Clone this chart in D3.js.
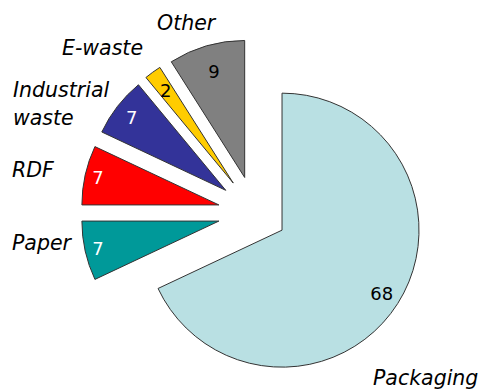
<!DOCTYPE html>
<html>
<head>
<meta charset="utf-8">
<script src="https://cdn.jsdelivr.net/npm/d3@7"></script>
<style>
  html, body { margin: 0; padding: 0; background: #fff; }
  svg { display: block; }
</style>
</head>
<body>
<svg id="chart" width="484" height="392"></svg>
<script>
// ---- data ----
const categories = ["Packaging", "Paper", "RDF", "Industrial waste", "E-waste", "Other"];
const values = [68, 7, 7, 7, 2, 9];
const colors = ["#B9E0E3", "#009999", "#FF0000", "#333399", "#FFCC00", "#808080"];
const valueColors = ["#000000", "#FFFFFF", "#FFFFFF", "#FFFFFF", "#000000", "#000000"];

// ---- layout ----
const W = 484, H = 392;
const cx = 255, cy = 213, R = 137;
const explodeMain = 32, explodeSmall = 37;
// distance of value labels from each slice's tip
const labelRadius = { "Packaging": 118, "Paper": 124, "RDF": 124, "Industrial waste": 119, "E-waste": 115, "Other": 110 };
// category label anchors (text-anchor start, baseline), relative to pie centre
const catLabelLayout = {
  "Packaging":        { dx: 118, dy: 172, lines: ["Packaging"] },
  "Paper":            { dx: -243, dy: 37, lines: ["Paper"] },
  "RDF":              { dx: -243, dy: -36, lines: ["RDF"] },
  "Industrial waste": { dx: -242, dy: -116, lines: ["Industrial", "waste"] },
  "E-waste":          { dx: -193, dy: -158, lines: ["E-waste"] },
  "Other":            { dx: -98, dy: -183, lines: ["Other"] }
};

const svg = d3.select("#chart");
const data = categories.map((c, i) => ({ cat: c, value: values[i], color: colors[i], vcol: valueColors[i] }));

const pie = d3.pie().sort(null).value(d => d.value).startAngle(0).endAngle(2 * Math.PI);
const arcs = pie(data);
const arc = d3.arc().innerRadius(0).outerRadius(R);

const g = svg.append("g").attr("transform", `translate(${cx},${cy})`);

arcs.forEach((a, i) => {
  const mid = (a.startAngle + a.endAngle) / 2;
  const ex = i === 0 ? explodeMain : explodeSmall;
  const ox = Math.sin(mid) * ex, oy = -Math.cos(mid) * ex;
  const sg = g.append("g").attr("transform", `translate(${ox},${oy})`);
  sg.append("path")
    .attr("d", arc(a))
    .attr("fill", a.data.color)
    .attr("stroke", "#333333")
    .attr("stroke-width", 1)
    .attr("stroke-linejoin", "miter");
  const lr = labelRadius[a.data.cat];
  sg.append("text")
    .attr("x", Math.sin(mid) * lr)
    .attr("y", -Math.cos(mid) * lr)
    .attr("dy", "0.36em")
    .attr("text-anchor", "middle")
    .attr("font-family", "'DejaVu Sans', Verdana, sans-serif")
    .attr("font-size", 18)
    .attr("fill", a.data.vcol)
    .text(a.data.value);
});

// category labels
data.forEach(d => {
  const L = catLabelLayout[d.cat];
  const t = g.append("text")
    .attr("x", L.dx)
    .attr("y", L.dy)
    .attr("font-family", "'DejaVu Sans', Verdana, sans-serif")
    .attr("font-style", "italic")
    .attr("font-size", 20.5)
    .attr("fill", "#000");
  L.lines.forEach((ln, k) => {
    t.append("tspan").attr("x", L.dx).attr("dy", k === 0 ? 0 : 28).text(ln);
  });
});
</script>
</body>
</html>
